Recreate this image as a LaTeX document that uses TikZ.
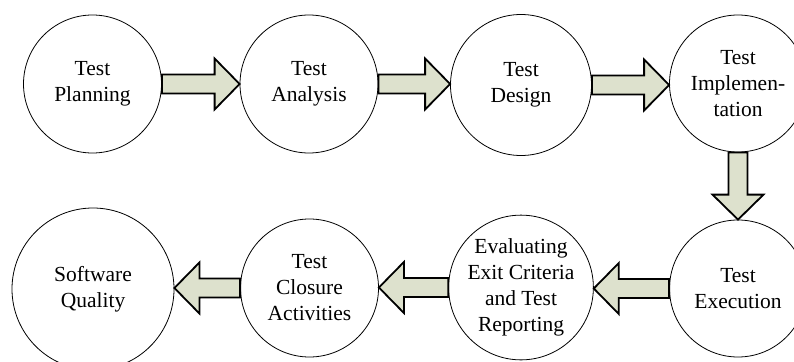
\documentclass[tikz,border=0pt]{standalone}
\usepackage{fontspec}
\setmainfont{Liberation Serif}
\usetikzlibrary{calc}
\definecolor{arrowfill}{RGB}{221,225,205}
\tikzset{
  stage/.style={circle, draw=black, line width=0.8pt, fill=white, inner sep=0pt,
    align=center, font=\fontsize{21.5}{26}\selectfont},
  blockarrow/.style={draw=black, line width=1.8pt, fill=arrowfill, line join=miter}
}
% horizontal block arrow from #1 to #2 (shaft half width 9.5, head half width 25.5, head length 25)
\newcommand\hblock[2]{%
  \draw[blockarrow] let \p1=(#1), \p2=(#2), \n1={sign(\x2-\x1)*25} in
    (\x1,\y1+9.5) -- (\x2-\n1,\y1+9.5) -- (\x2-\n1,\y1+25.5) -- (\x2,\y1)
    -- (\x2-\n1,\y1-25.5) -- (\x2-\n1,\y1-9.5) -- (\x1,\y1-9.5) -- cycle;}
% downward block arrow from #1 to #2
\newcommand\vblock[2]{%
  \draw[blockarrow] let \p1=(#1), \p2=(#2) in
    (\x1-9.5,\y1) -- (\x1-9.5,\y2+25) -- (\x1-25.5,\y2+25) -- (\x1,\y2)
    -- (\x1+25.5,\y2+25) -- (\x1+9.5,\y2+25) -- (\x1+9.5,\y1) -- cycle;}
\begin{document}
\begin{tikzpicture}[x=1pt, y=-1pt]
  \useasboundingbox (0,0) rectangle (794,361);
  % top row
  \node[stage, minimum size=138pt] (plan) at (92.5,84) {Test\\Planning};
  \node[stage, minimum size=138pt] (anal) at (309,84) {Test\\Analysis};
  \node[stage, minimum size=141pt] (desi) at (521,85) {Test\\Design};
  \node[stage, minimum size=137pt] (impl) at (738,83.5) {Test\\Implemen-\\tation};
  % bottom row
  \node[stage, minimum size=137pt] (exec) at (738,288.5) {Test\\Execution};
  \node[stage, minimum size=140pt] (eval) at (521,287.5) {Evaluating\\Exit Criteria\\and Test\\Reporting};
  \node[stage, minimum size=138pt] (clos) at (309.5,288) {Test\\Closure\\Activities};
  \node[stage, minimum size=162pt] (soft) at (93,289) {Software\\Quality};
  % connectors
  \hblock{plan.east}{anal.west}
  \hblock{anal.east}{desi.west}
  \hblock{desi.east}{impl.west}
  \vblock{impl.south}{exec.north}
  \hblock{exec.west}{eval.east}
  \hblock{eval.west}{clos.east}
  \hblock{clos.west}{soft.east}
\end{tikzpicture}
\end{document}
